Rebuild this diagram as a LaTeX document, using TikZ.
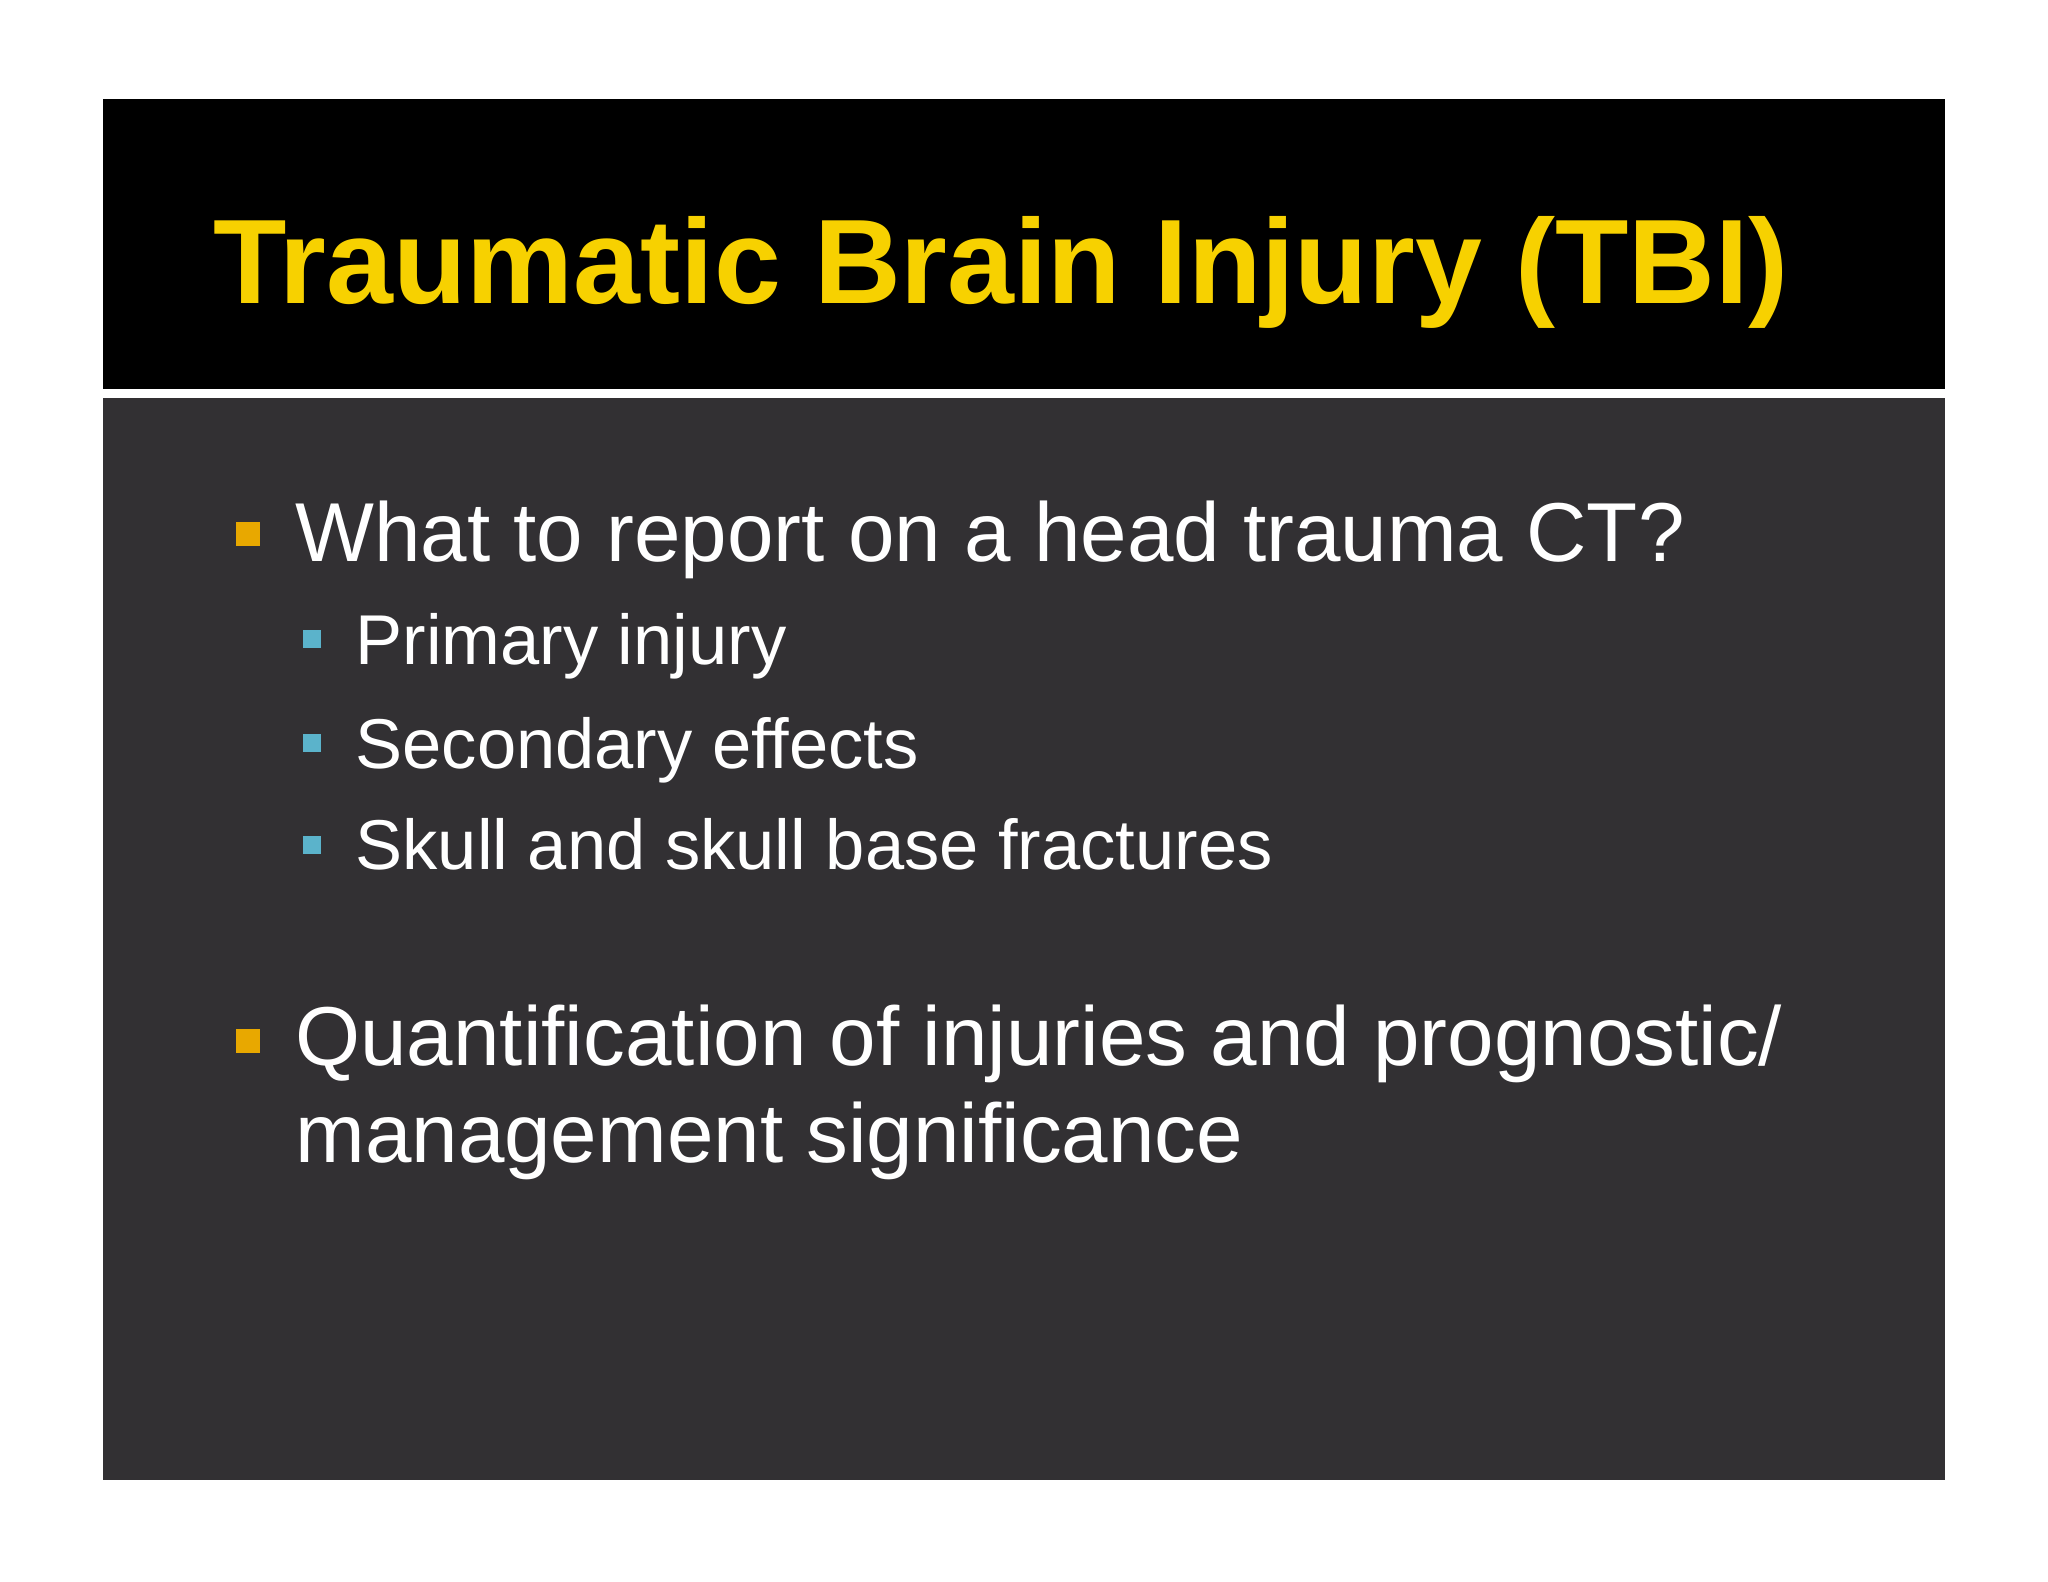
\documentclass[tikz,border=0pt]{standalone}
\usepackage{fontspec}
\setmainfont{Liberation Sans}
\definecolor{bodygray}{HTML}{323033}
\definecolor{titleyellow}{HTML}{F7D100}
\definecolor{bulorange}{HTML}{E8A800}
\definecolor{bulteal}{HTML}{5BB3CB}
\begin{document}
\begin{tikzpicture}[x=1pt,y=-1pt,
  txt/.style={anchor=base west,text=white,inner sep=0pt,font=\fontsize{64}{76}\selectfont},
  subtxt/.style={anchor=base west,text=white,inner sep=0pt,font=\fontsize{54}{64}\selectfont},
  obul/.style={fill=bulorange,minimum size=18pt,inner sep=0pt},
  tbul/.style={fill=bulteal,minimum size=14pt,inner sep=0pt}]
\useasboundingbox (0,0) rectangle (1568,1211);
\fill[white] (0,0) rectangle (1568,1211);
\fill[black] (79,76) rectangle (1489,298);
\fill[white] (79,298) rectangle (1489,305);
\fill[bodygray] (79,305) rectangle (1489,1133);
\node[anchor=base west,inner sep=0pt,text=titleyellow,font=\bfseries\fontsize{92}{100}\selectfont] (title) at (163,232) {Traumatic Brain Injury (TBI)};
\node[obul] (b1) at (190,409) {};
\node[txt] (t1) at (226,430) {What to report on a head trauma CT?};
\node[tbul] (s1) at (239,489) {};
\node[subtxt] (u1) at (272,509) {Primary injury};
\node[tbul] (s2) at (239,569) {};
\node[subtxt] (u2) at (272,588) {Secondary effects};
\node[tbul] (s3) at (239,647) {};
\node[subtxt] (u3) at (272,666) {Skull and skull base fractures};
\node[obul] (b2) at (190,797) {};
\node[txt] (t2) at (226,816) {Quantification of injuries and prognostic/};
\node[txt] (t3) at (226,890) {management significance};
\end{tikzpicture}
\end{document}
